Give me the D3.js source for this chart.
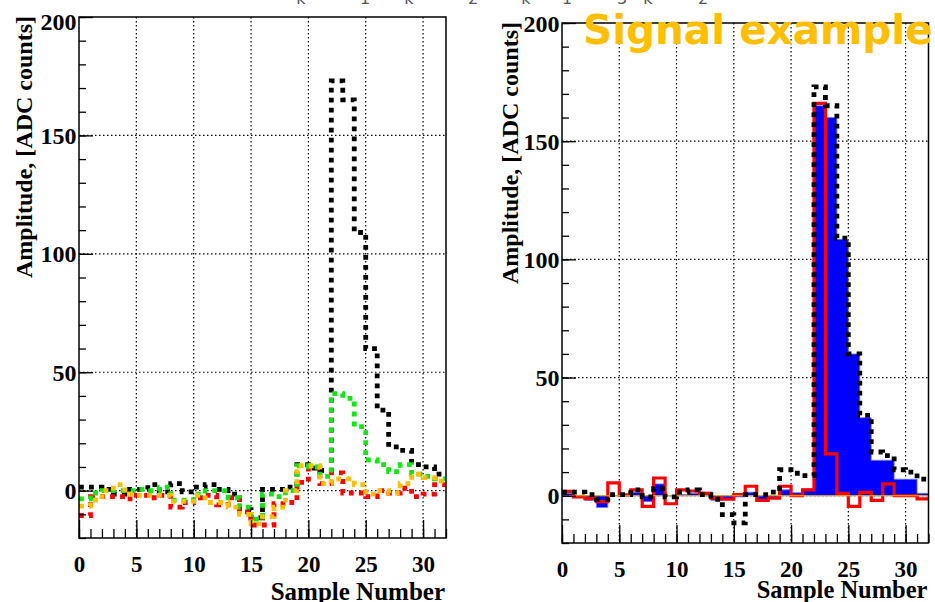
<!DOCTYPE html>
<html>
<head>
<meta charset="utf-8">
<script src="https://cdn.jsdelivr.net/npm/d3@7"></script>
<style>
  html, body { margin: 0; padding: 0; background: #fff; }
  svg { display: block; }
</style>
</head>
<body>
<svg id="chart" width="935" height="602"></svg>
<script>
// ---- data: one amplitude per sample (32 samples, ADC counts) ----
const samples = d3.range(32);

// raw pulse (black dotted, both panels)
const rawPulse = [1.5, 1.5, 0.5, -1.5, 0.5, 0.5, 2.5, -0.5, 3, -0.5, 1.5, 2.5, 0.5, -1.5, -8, -11.5,
                  0.5, 0.5, 1.5, 11, 9.5, 8.5, 173, 165, 109, 60, 34, 18.5, 17, 11, 10, 7];
// other channels (left panel)
const greenPulse = [-3.5, -1, 0, 0, 0, 0.5, 0, 1.5, -4, -4, -1.5, 0, 0, -3, -7, -12,
                    -1.5, -2.5, 0, 10.5, 10, 6, 41, 39, 27, 13, 11, 8, 11, 7, 6, 5];
const orangePulse = [-6.5, -4, 0, 2.5, -1.5, -2, -2, -2, -4.5, -4.5, -2, -5, -5, -7, -10, -14,
                     -11, -7, 0, 10.5, 10.5, 3, 5, 5, 2.5, -1.5, 0, -1, 3, 7, 5.5, 4];
const redPulse = [-10.5, -2.5, -2.5, -2.5, -3.5, -2, -3, -2, -7, -5, -3, -2, -6, -3, -9, -14.5,
                  -14.5, -5.5, -5, 3.5, 9.5, 3, 7.5, -1, -1, -2.5, 0, -1, 1, -2.5, -1.5, 2.5];
// right panel: filled reconstruction (blue) and deconvolved signal (red)
const bluePulse = [1, 0, -2, -5, 0, 0.5, 1.5, -2.5, 5, 0, 0.5, 1, 1.5, -2, -1.5, -0.5,
                   1.5, -2, -1, 2.5, 1.3, 3, 165, 160, 108.5, 60, 33, 15, 15, 7, 7, 1];
const redSignal = [1.8, -0.5, -1.2, -2.5, 5.4, 0.4, 2.5, -4.5, 7.5, -3.4, 2.5, 2, 1, -1, -1.5, 0.5,
                   4, -2, -1, 4, 0, 2.5, 166, 17.7, 1, -4.5, 1.4, -2, 5, 0, 0, -1.3];

const xTicks = [0, 5, 10, 15, 20, 25, 30];
const yTicks = [0, 50, 100, 150, 200];
const xMinor = d3.range(0, 33, 1);
const yMinor = d3.range(-20, 201, 10);
const headerGlyphs = ["k", "1", "k", "2", "k", "1", "3", "k", "2"];

const svg = d3.select("#chart");
const serif = "'Liberation Serif', 'Times New Roman', serif";

// subscripts of the cut-off formula line above the plots
const headerX = [301, 365, 409, 473, 526, 567, 622, 648, 703];
svg.append("g").selectAll("text").data(headerGlyphs).join("text")
  .attr("x", (d, i) => headerX[i]).attr("y", 4)
  .attr("text-anchor", "middle")
  .attr("font-family", "'DejaVu Sans', sans-serif").attr("font-size", 16)
  .attr("fill", "#555").text(d => d);

function panel(opts) {
  const x = d3.scaleLinear([0, 32], [opts.left, opts.right]);
  const y = d3.scaleLinear([-20, 200], [opts.bottom, opts.top]);
  const g = svg.append("g");

  // dotted grid at major ticks
  const grid = g.append("g").attr("stroke", "#000").attr("stroke-width", 1.2)
    .attr("stroke-dasharray", "1.5,2.5").attr("fill", "none");
  grid.selectAll("line.v").data(xTicks.filter(v => v > 0)).join("line")
    .attr("x1", d => x(d)).attr("x2", d => x(d)).attr("y1", opts.top).attr("y2", opts.bottom);
  grid.selectAll("line.h").data(yTicks.filter(v => v < 200)).join("line")
    .attr("y1", d => y(d)).attr("y2", d => y(d)).attr("x1", opts.left).attr("x2", opts.right);

  const clip = "clip" + opts.id;
  svg.append("clipPath").attr("id", clip).append("rect")
    .attr("x", opts.left).attr("y", opts.top)
    .attr("width", opts.right - opts.left).attr("height", opts.bottom - opts.top);
  const plot = g.append("g").attr("clip-path", `url(#${clip})`);

  const pts = vals => samples.map(i => [i, vals[i]]).concat([[32, vals[31]]]);
  const line = d3.line().x(d => x(d[0])).y(d => y(d[1])).curve(d3.curveStepAfter);
  const area = d3.area().x(d => x(d[0])).y0(y(0)).y1(d => y(d[1])).curve(d3.curveStepAfter);

  opts.draw(plot, pts, line, area, x, y);

  // frame
  g.append("rect").attr("x", opts.left).attr("y", opts.top)
    .attr("width", opts.right - opts.left).attr("height", opts.bottom - opts.top)
    .attr("fill", "none").attr("stroke", "#000").attr("stroke-width", 1.5);

  // x axis: inward ticks
  const xMaj = g.append("g").attr("transform", `translate(0,${opts.bottom})`)
    .call(d3.axisBottom(x).tickValues(xTicks).tickSize(-18).tickSizeOuter(0).tickFormat(d3.format("d")));
  const xMin = g.append("g").attr("transform", `translate(0,${opts.bottom})`)
    .call(d3.axisBottom(x).tickValues(xMinor).tickSize(-9).tickSizeOuter(0).tickFormat(""));
  [xMaj, xMin].forEach(a => { a.select(".domain").remove(); a.selectAll("line").attr("stroke-width", 1.3); });
  xMaj.selectAll("text").attr("y", 34).attr("dy", 0)
    .attr("font-family", serif).attr("font-weight", "bold").attr("font-size", 23).attr("fill", "#000");

  // y axis: inward ticks
  const yMaj = g.append("g").attr("transform", `translate(${opts.left},0)`)
    .call(d3.axisLeft(y).tickValues(yTicks).tickSize(-14).tickSizeOuter(0).tickFormat(d3.format("d")));
  const yMin = g.append("g").attr("transform", `translate(${opts.left},0)`)
    .call(d3.axisLeft(y).tickValues(yMinor).tickSize(-7).tickSizeOuter(0).tickFormat(""));
  [yMaj, yMin].forEach(a => { a.select(".domain").remove(); a.selectAll("line").attr("stroke-width", 1.3); });
  yMaj.selectAll("text").attr("x", -2.5).attr("dy", d => (d === 200 ? opts.topShift : 0) + 8)
    .attr("font-family", serif).attr("font-weight", "bold").attr("font-size", 24).attr("fill", "#000");

  // axis titles
  g.append("text").attr("x", opts.right - 1).attr("y", opts.xTitleY)
    .attr("text-anchor", "end").attr("font-family", serif).attr("font-weight", "bold")
    .attr("font-size", opts.xTitleSize).text("Sample Number");
  g.append("text").attr("transform", `translate(${opts.yTitleX},${opts.top - 1}) rotate(-90)`)
    .attr("text-anchor", "end").attr("font-family", serif).attr("font-weight", "bold")
    .attr("font-size", 24).text("Amplitude, [ADC counts]");
}

const dotted = sel => sel.attr("fill", "none").attr("stroke-width", 4.8)
  .attr("stroke-dasharray", "4.8,5.2").attr("stroke-linecap", "butt");

// left panel: raw pulses of several channels
panel({
  id: "L", left: 79, right: 446, top: 17, bottom: 538, topShift: 4,
  xTitleY: 600, xTitleSize: 25, yTitleX: 31.5,
  draw(plot, pts, line) {
    plot.append("path").attr("d", line(pts(rawPulse))).attr("stroke", "#000").call(dotted);
    plot.append("path").attr("d", line(pts(redPulse))).attr("stroke", "#ff0000").call(dotted);
    plot.append("path").attr("d", line(pts(greenPulse))).attr("stroke", "#10e610").call(dotted);
    plot.append("path").attr("d", line(pts(orangePulse))).attr("stroke", "#ffbf00").call(dotted);
  }
});

// right panel: signal example
panel({
  id: "R", left: 562, right: 928.5, top: 23, bottom: 543, topShift: 0,
  xTitleY: 598, xTitleSize: 24.5, yTitleX: 518,
  draw(plot, pts, line, area, x, y) {
    plot.append("path").attr("d", area(pts(bluePulse))).attr("fill", "#0000ff")
      .attr("stroke", "#7a7aff").attr("stroke-width", 0.8);
    plot.append("path").attr("d", line(pts(redSignal))).attr("fill", "none")
      .attr("stroke", "#ff0000").attr("stroke-width", 3.2);
    plot.append("line").attr("x1", x(0)).attr("x2", x(32)).attr("y1", y(0)).attr("y2", y(0))
      .attr("stroke", "#e8b400").attr("stroke-width", 1.2);
    plot.append("path").attr("d", line(pts(rawPulse))).attr("stroke", "#000").call(dotted);
  }
});

svg.append("text").attr("x", 583).attr("y", 44)
  .attr("font-family", "'DejaVu Sans', sans-serif").attr("font-weight", "bold")
  .attr("font-size", 40.5).attr("fill", "#ffbf00").text("Signal example");
</script>
</body>
</html>
